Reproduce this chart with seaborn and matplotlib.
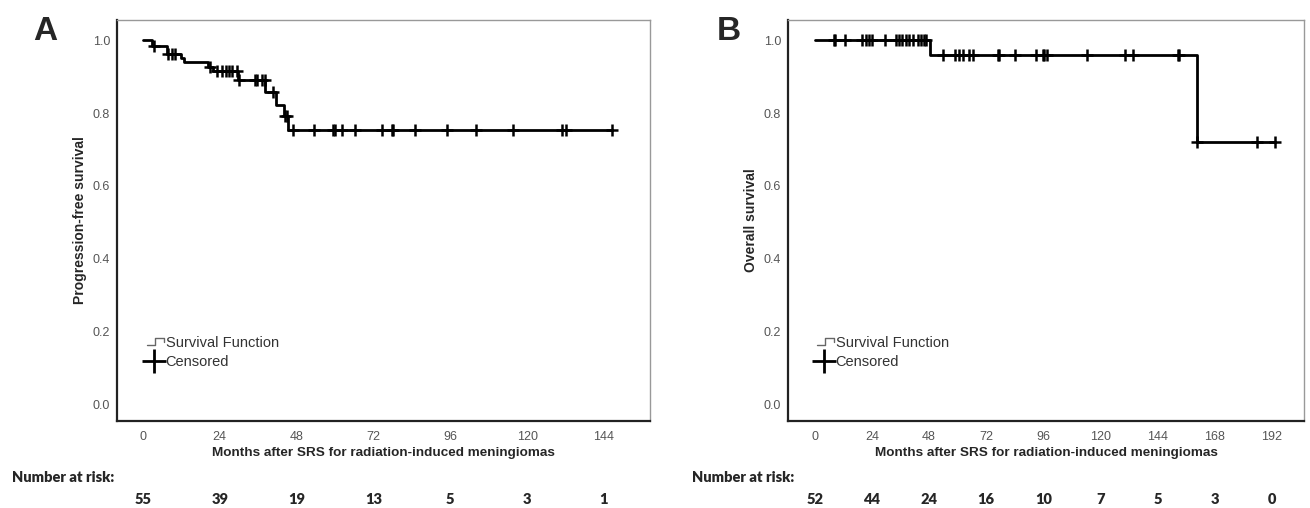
import matplotlib
matplotlib.use("Agg")
import matplotlib.pyplot as plt
import matplotlib.transforms as mtransforms
from matplotlib.lines import Line2D
from matplotlib.legend_handler import HandlerBase
import numpy as np
import seaborn as sns

# Panel A - progression-free survival
pfs_event_t = [2.7, 7.4, 11.8, 12.7, 20.4, 21.8, 29.6, 38.2, 41.6, 44.0, 45.2]
pfs_level = [0.983, 0.962, 0.951, 0.939, 0.926, 0.914, 0.891, 0.858, 0.822, 0.791, 0.754]
pfs_censor_t = [3.4, 7.9, 9.0, 10.0, 20.9, 23.0, 24.6, 26.1, 27.0, 27.7, 29.3, 30.1,
                35.0, 35.7, 37.1, 38.1, 40.5, 44.4, 44.9, 46.8, 53.3, 59.5, 60.0, 62.2,
                66.1, 74.6, 77.8, 78.2, 85.0, 95.0, 104.0, 115.5, 131.0, 132.2, 146.5]
pfs_ticks = [0, 24, 48, 72, 96, 120, 144]
pfs_risk = [55, 39, 19, 13, 5, 3, 1]

# Panel B - overall survival
os_event_t = [48.3, 160.4]
os_level = [0.960, 0.721]
os_censor_t = [8.2, 8.6, 12.6, 19.6, 21.3, 22.7, 24.2, 29.4, 34.3, 35.4, 36.7, 38.2,
               39.6, 41.3, 43.4, 44.8, 45.8, 46.6, 53.9, 58.8, 60.6, 62.3, 64.8, 66.3,
               76.8, 77.2, 84.0, 93.1, 95.7, 96.1, 97.6, 114.4, 130.3, 133.8, 152.5,
               152.9, 160.6, 185.8, 193.3]
os_ticks = [0, 24, 48, 72, 96, 120, 144, 168, 192]
os_risk = [52, 44, 24, 16, 10, 7, 5, 3, 0]

sns.set_style("white")
plt.rcParams['font.family'] = ['Liberation Sans', 'DejaVu Sans']

SANS = ['Liberation Sans', 'DejaVu Sans']
CAL = ['Lato', 'DejaVu Sans']


class StepHandler(HandlerBase):
    # little step glyph used by SPSS for the survival function
    def create_artists(self, legend, orig_handle, xdescent, ydescent,
                       width, height, fontsize, trans):
        x0 = -xdescent + width * 0.15
        w = width * 0.85
        y0 = -ydescent + height * 0.15
        h = height * 0.7
        xs = [x0, x0 + w * 0.45, x0 + w * 0.45, x0 + w, x0 + w]
        ys = [y0, y0, y0 + h, y0 + h, y0 + h * 0.45]
        ln = Line2D(xs, ys, color='#666666', lw=1.0, transform=trans)
        return [ln]


def level_at(t, ev_t, lev):
    idx = np.searchsorted(ev_t, t, side='right')
    return np.concatenate([[1.0], lev])[idx]


def km_panel(ax, ev_t, lev, cens_t, ticks, xlim, ylabel):
    end_t = max(max(cens_t), max(ev_t))
    xs = [0] + list(ev_t) + [end_t]
    ys = [1.0] + list(lev) + [lev[-1]]
    sns.lineplot(x=xs, y=ys, drawstyle='steps-post', estimator=None, sort=False,
                 color='black', lw=2.0, ax=ax)
    cy = level_at(np.array(cens_t), ev_t, lev)
    sns.scatterplot(x=cens_t, y=cy, marker='+', s=75, linewidth=1.8,
                    color='black', ax=ax, zorder=3)
    ax.set_xlim(*xlim)
    ax.set_ylim(-0.044, 1.055)
    ax.set_xticks(ticks)
    ax.set_yticks([0, 0.2, 0.4, 0.6, 0.8, 1.0])
    ax.set_yticklabels(['0.0', '0.2', '0.4', '0.6', '0.8', '1.0'])
    ax.tick_params(axis='x', length=0, pad=7, labelsize=9, labelcolor='#555555')
    ax.tick_params(axis='y', length=0, pad=5, labelsize=9, labelcolor='#555555')
    for s in ['left', 'bottom']:
        ax.spines[s].set_color('#222222')
        ax.spines[s].set_linewidth(1.6)
    for s in ['top', 'right']:
        ax.spines[s].set_color('#999999')
        ax.spines[s].set_linewidth(1.0)
    ax.set_xlabel('Months after SRS for radiation-induced meningiomas',
                  fontsize=9.7, fontweight='bold', family=SANS, labelpad=3)
    ax.set_ylabel(ylabel, fontsize=10, fontweight='bold', family=SANS, labelpad=4)

    h1 = Line2D([], [])
    h2 = Line2D([], [], marker='+', markersize=17, linestyle='none',
                markeredgecolor='black', markeredgewidth=2.0)
    leg = ax.legend([h1, h2], ['Survival Function', 'Censored'], loc='upper left',
                    bbox_to_anchor=(0.05, 0.213), frameon=False, fontsize=10.5,
                    handlelength=1.4, handletextpad=0.1, labelspacing=0.35,
                    borderpad=0, borderaxespad=0,
                    handler_map={h1: StepHandler()})
    for t in leg.get_texts():
        t.set_color('#333333')


fig = plt.figure(figsize=(13.1, 5.08), dpi=100)
axA = fig.add_axes([0.0893, 0.1713, 0.4069, 0.7894])
axB = fig.add_axes([0.6015, 0.1713, 0.3939, 0.7894])

km_panel(axA, pfs_event_t, pfs_level, pfs_censor_t, pfs_ticks, (-8.1, 158.4),
         'Progression-free survival')
km_panel(axB, os_event_t, os_level, os_censor_t, os_ticks, (-11.3, 205.5),
         'Overall survival')

fig.text(0.0344, 0.938, 'A', fontsize=24, fontweight='bold', family=SANS,
         ha='center', va='center')
fig.text(0.5565, 0.938, 'B', fontsize=24, fontweight='bold', family=SANS,
         ha='center', va='center')

# number at risk tables
for ax, ticks, risk, xlab in [(axA, pfs_ticks, pfs_risk, 0.009),
                              (axB, os_ticks, os_risk, 0.528)]:
    fig.text(xlab, 0.061, 'Number at risk:', fontsize=10.5, fontweight='heavy',
             family=CAL, ha='left', va='center')
    tr = mtransforms.blended_transform_factory(ax.transData, fig.transFigure)
    for t, n in zip(ticks, risk):
        fig.text(t, 0.016, str(n), transform=tr, fontsize=10.5, fontweight='heavy',
                 family=CAL, ha='center', va='center')

fig.savefig('out.png', dpi=100)
